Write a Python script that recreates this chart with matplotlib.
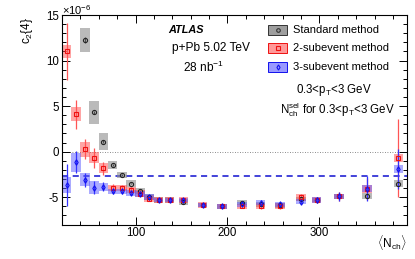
import matplotlib
matplotlib.use("Agg")
import matplotlib.pyplot as plt
from matplotlib.patches import Rectangle
from matplotlib.ticker import MultipleLocator
from matplotlib.lines import Line2D
import numpy as np

plt.rcParams['font.family'] = ['Liberation Sans', 'DejaVu Sans']
plt.rcParams['mathtext.fontset'] = 'custom'
plt.rcParams['mathtext.rm'] = 'Liberation Sans'
plt.rcParams['mathtext.it'] = 'Liberation Sans:italic'
plt.rcParams['mathtext.bf'] = 'Liberation Sans:bold'
plt.rcParams['axes.unicode_minus'] = False

# ---- data (values in units of 1e-6) ----
nch = [25, 35, 45, 55, 65, 75, 85, 95, 105, 115, 125, 137, 152, 173, 194,
       216, 236, 257, 280, 297, 321, 352, 386]

std_x = [45, 55, 65, 75, 85, 95, 105, 115, 125, 137, 152, 173, 194,
         216, 236, 257, 280, 297, 321, 352, 386]
std_y = [12.25, 4.3, 1.1, -1.45, -2.57, -3.5, -4.3, -5.0, -5.3, -5.3, -5.55,
         -5.85, -6.0, -5.6, -5.8, -5.9, -5.2, -5.3, -4.9, -4.9, -3.5]
std_stat = [0.3, 0.2, 0.15, 0.1, 0.1, 0.1, 0.1, 0.1, 0.1, 0.1, 0.1,
            0.1, 0.1, 0.1, 0.1, 0.1, 0.1, 0.1, 0.1, 0.15, 0.3]
std_sys = [1.3, 1.25, 0.9, 0.45, 0.35, 0.35, 0.35, 0.3, 0.3, 0.3, 0.3,
           0.25, 0.25, 0.25, 0.25, 0.25, 0.25, 0.25, 0.3, 0.35, 0.4]

sub2_y = [11.0, 4.1, 0.25, -0.65, -1.85, -4.0, -4.0, -4.2, -4.6, -5.15, -5.3,
          -5.3, -5.3, -5.85, -6.0, -6.0, -6.0, -6.0, -5.0, -5.3, -4.9, -4.1, -0.7]
sub2_stat = [3.1, 1.6, 1.1, 1.1, 0.7, 0.4, 0.35, 0.3, 0.3, 0.25, 0.2,
             0.2, 0.2, 0.2, 0.2, 0.2, 0.25, 0.25, 0.3, 0.3, 0.5, 1.2, 4.3]
sub2_sys = [0.7, 0.75, 0.8, 0.6, 0.55, 0.35, 0.35, 0.35, 0.35, 0.35, 0.3,
            0.3, 0.3, 0.3, 0.3, 0.3, 0.35, 0.35, 0.4, 0.3, 0.3, 0.4, 0.4]

sub3_y = [-3.65, -1.15, -3.1, -3.95, -3.85, -4.35, -4.35, -4.55, -4.65, -5.0, -5.3,
          -5.3, -5.3, -5.85, -6.0, -5.8, -5.6, -5.8, -5.5, -5.3, -4.9, -4.05, -1.9]
sub3_stat = [2.3, 1.2, 0.8, 0.7, 0.5, 0.3, 0.3, 0.25, 0.25, 0.25, 0.2,
             0.2, 0.2, 0.2, 0.2, 0.2, 0.25, 0.25, 0.3, 0.3, 0.5, 1.35, 2.2]
sub3_sys = [0.85, 1.05, 0.7, 0.7, 0.45, 0.3, 0.3, 0.3, 0.3, 0.3, 0.25,
            0.25, 0.25, 0.25, 0.25, 0.25, 0.3, 0.3, 0.3, 0.3, 0.3, 0.35, 0.4]

dashed_level = -2.65

fig = plt.figure(figsize=(4.15, 2.59), dpi=100)
ax = fig.add_axes([62/415, 1-224.5/259, (406.7-62)/415, (224.5-15)/259])

box_w = 10.5
gray_face = (0.55, 0.55, 0.55)
red_face = (1.0, 0.3, 0.3)
blue_face = (0.35, 0.35, 1.0)

ax.axhline(0, color='0.4', ls=(0, (1, 2)), lw=0.6, zorder=1)
ax.axhline(dashed_level, color='#1010d0', ls=(0, (4, 3)), lw=1.1, zorder=1)

def draw(xs, ys, stat, sys, face, alpha, ecol, barcol, marker, ms):
    xs = np.asarray(xs, float); ys = np.asarray(ys, float)
    sys = np.asarray(sys, float)
    ax.bar(xs, 2*sys, bottom=ys-sys, width=box_w, color=face, alpha=alpha,
           lw=0, zorder=2)
    ax.errorbar(xs, ys, yerr=stat, fmt='none', ecolor=barcol,
                elinewidth=0.9, capsize=0, zorder=3)
    ax.plot(xs, ys, ls='none', marker=marker, ms=ms, mfc='none', mec=ecol,
            mew=0.8, zorder=4)

draw(std_x, std_y, std_stat, std_sys, gray_face, 0.6, '0.15', '0.3', 'o', 3.0)
draw(nch, sub2_y, sub2_stat, sub2_sys, red_face, 0.5, '#ee1111', '#ff5555', 's', 3.0)
draw(nch, sub3_y, sub3_stat, sub3_sys, blue_face, 0.5, '#1111ee', '#3333ff', 'd', 2.8)

ax.set_xlim(20, 395)
ax.set_ylim(-8, 15)
ax.xaxis.set_major_locator(MultipleLocator(100))
ax.xaxis.set_minor_locator(MultipleLocator(20))
ax.yaxis.set_major_locator(MultipleLocator(5))
ax.yaxis.set_minor_locator(MultipleLocator(1))
ax.tick_params(which='both', direction='in', top=True, right=True,
               labelsize=8.3, width=0.7, pad=2)
ax.tick_params(which='major', length=6)
ax.tick_params(which='minor', length=3)
for s in ax.spines.values():
    s.set_linewidth(0.8)

fig.text(27/415, 1-17/259, r'c$_2${4}', rotation=90, ha='center', va='top',
         fontsize=8.5)
fig.text(62/415, 1-17/259, r'$\times$10$^{-6}$', ha='left', va='bottom',
         fontsize=8)
fig.text(407/415, 1-252/259, r'$\langle$N$_{\rm ch}\rangle$', ha='right',
         va='bottom', fontsize=8.5)

fig.text(186/415, 1-30/259, 'ATLAS', fontsize=7.8, fontweight='bold',
         fontstyle='italic', ha='center', va='center')
fig.text(211/415, 1-48/259, 'p+Pb 5.02 TeV', fontsize=8.6, ha='center',
         va='center')
fig.text(203/415, 1-67/259, r'28 nb$^{-1}$', fontsize=8.6, ha='center',
         va='center')
fig.text(334/415, 1-90/259, r'0.3<p$_{\rm T}$<3 GeV', fontsize=8.3,
         ha='center', va='center')
fig.text(337/415, 1-110/259, r'N$_{\rm ch}^{\rm sel}$ for 0.3<p$_{\rm T}$<3 GeV',
         fontsize=8.3, ha='center', va='center')

leg_labels = ['Standard method', '2-subevent method', '3-subevent method']
leg_face = [(0.62, 0.62, 0.62), (1.0, 0.6, 0.6), (0.6, 0.6, 1.0)]
leg_edge = ['0.2', '#ee1111', '#1111ee']
leg_mark = ['o', 's', 'd']
leg_y = [30, 48, 67]
for lab, fc, ec, mk, yy in zip(leg_labels, leg_face, leg_edge, leg_mark, leg_y):
    fig.add_artist(Rectangle((268/415, 1-(yy+5)/259), 19/415, 10/259,
                             transform=fig.transFigure, facecolor=fc,
                             edgecolor=ec, lw=0.7))
    fig.add_artist(Line2D([277.5/415], [1-yy/259], transform=fig.transFigure,
                          marker=mk, ms=2.6, mfc='none', mec=ec, mew=0.8, ls='none'))
    fig.text(293/415, 1-yy/259, lab, fontsize=8, ha='left', va='center')

fig.savefig('out.png', dpi=100)
